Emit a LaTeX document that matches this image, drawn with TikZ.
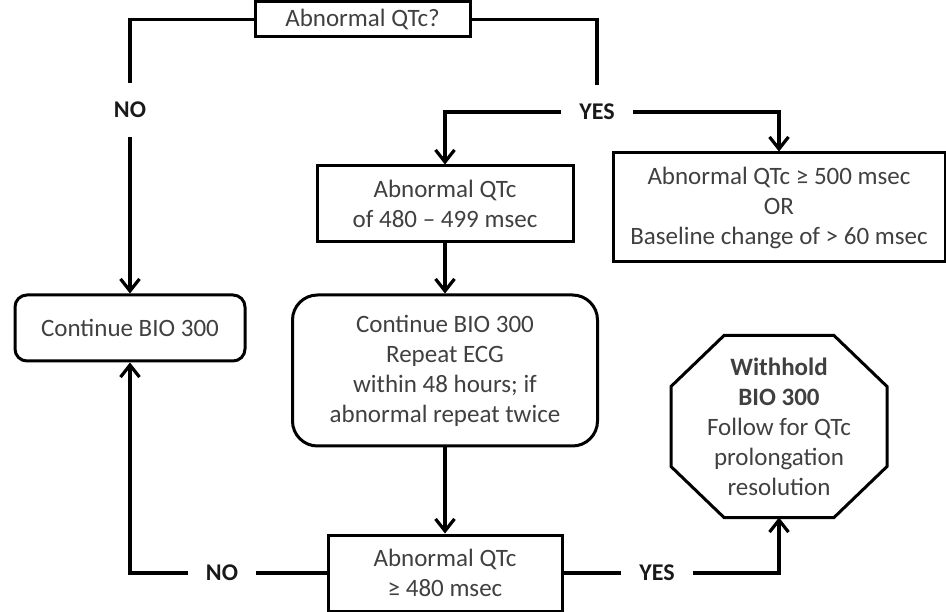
\documentclass[tikz,border=0pt]{standalone}
\usepackage{fontspec}
\setmainfont{Carlito}
\usetikzlibrary{arrows.meta,calc}
\begin{document}
\begin{tikzpicture}[x=1pt,y=-1pt,
  box/.style={draw, line width=3pt, align=center, text=black!75,
    font=\fontsize{25}{30}\selectfont, inner sep=0pt},
  lbl/.style={font=\bfseries\fontsize{24}{29}\selectfont, text=black!90,
    inner xsep=18pt, inner ysep=0pt, minimum height=54pt},
  conn/.style={line width=3.2pt},
  arr/.style={conn, -{Straight Barb[length=12pt,width=19pt]}}]
\useasboundingbox (0,0) rectangle (946,612);
% boxes
\node[box, minimum width=215pt, minimum height=35pt] (q1) at (362.5,19.5) {Abnormal QTc?};
\node[box, rounded corners=12pt, minimum width=230pt, minimum height=66pt] (c1) at (130,328) {Continue BIO 300};
\node[box, minimum width=256pt, minimum height=76pt] (b2) at (445,204) {Abnormal QTc\\of 480 – 499 msec};
\node[box, rounded corners=25pt, minimum width=305pt, minimum height=151pt] (r) at (445,370.5) {Continue BIO 300\\Repeat ECG\\within 48 hours; if\\abnormal repeat twice};
\node[box, minimum width=234pt, minimum height=76pt] (b3) at (445,573) {Abnormal QTc\\≥ 480 msec};
\node[box, minimum width=332pt, minimum height=109pt] (b4) at (779,207.5) {Abnormal QTc ≥ 500 msec\\OR\\Baseline change of > 60 msec};
\node[box, draw=none, minimum width=213pt, minimum height=179pt] (oct) at (779,426.5) {\textbf{Withhold}\\\textbf{BIO 300}\\Follow for QTc\\prolongation\\resolution};
\draw[line width=3pt]
  ($(oct.north west)+(53,0)$) -- ($(oct.north east)+(-53,0)$) --
  ($(oct.north east)+(0,51)$) -- ($(oct.south east)+(0,-51)$) --
  ($(oct.south east)+(-53,0)$) -- ($(oct.south west)+(53,0)$) --
  ($(oct.south west)+(0,-51)$) -- ($(oct.north west)+(0,51)$) -- cycle;
% labels
\node[lbl] (no1) at (130,110) {NO};
\node[lbl] (yes1) at (597,112) {YES};
\node[lbl] (no2) at (222,573) {NO};
\node[lbl] (yes2) at (657,573) {YES};
% connectors
\draw[conn] (q1.west) -| (no1.north);
\draw[arr] (no1.south) -- (c1.north);
\draw[conn] (q1.east) -| (yes1.north);
\draw[arr] (yes1.west) -| (b2.north);
\draw[arr] (yes1.east) -| (b4.north);
\draw[arr] (b2.south) -- (r.north);
\draw[arr] (r.south) -- (b3.north);
\draw[conn] (b3.west) -- (no2.east);
\draw[arr] (no2.west) -| (c1.south);
\draw[conn] (b3.east) -- (yes2.west);
\draw[arr] (yes2.east) -| (oct.south);
\end{tikzpicture}
\end{document}
